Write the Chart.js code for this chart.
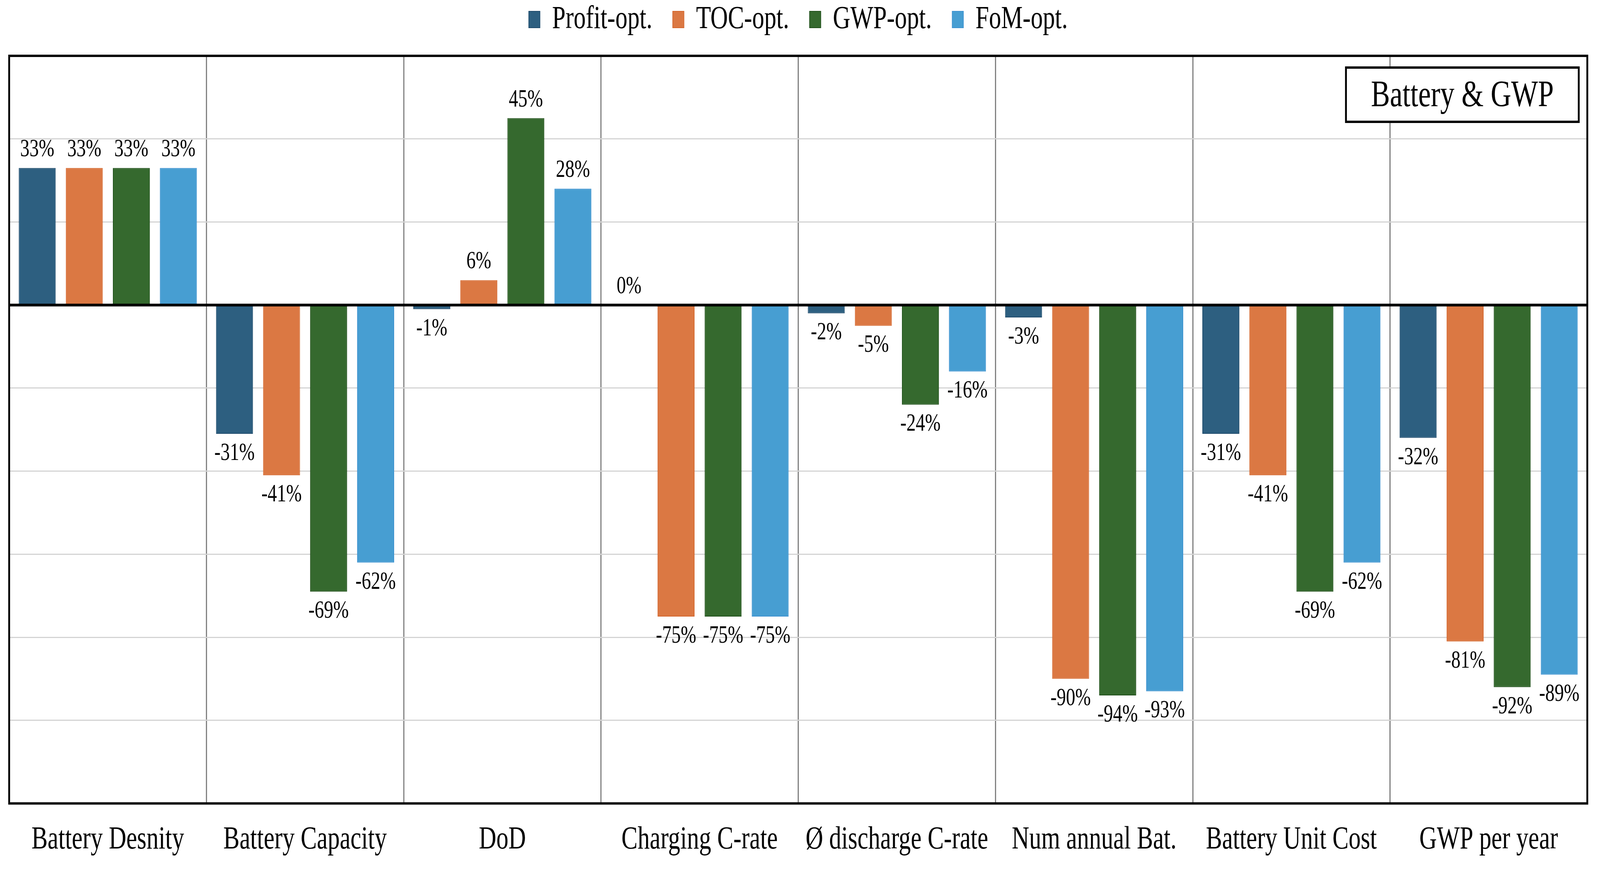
<!DOCTYPE html>
<html>
<head>
<meta charset="utf-8">
<script src="https://cdn.jsdelivr.net/npm/chart.js@4.4.1/dist/chart.umd.min.js"></script>
<style>
    html, body { margin: 0; padding: 0; background: #fff; overflow: hidden; }
    #chart { display: block; width: 100vw; height: 100vh; }
</style>
</head>
<body>
<!-- drawn at the reference size, then fitted to the window -->
<canvas id="chart" width="5416" height="2246" style="width:100vw;height:100vh"></canvas>
<script>
// values (percent change)
const categories = ['Battery Desnity', 'Battery Capacity', 'DoD', 'Charging C-rate', 'Ø discharge C-rate', 'Num annual Bat.', 'Battery Unit Cost', 'GWP per year'];
const seriesNames = ['Profit-opt.', 'TOC-opt.', 'GWP-opt.', 'FoM-opt.'];
const profitOpt = [33, -31, -1, 0, -2, -3, -31, -32];
const tocOpt = [33, -41, 6, -75, -5, -90, -41, -81];
const gwpOpt = [33, -69, 45, -75, -24, -94, -69, -92];
const fomOpt = [33, -62, 28, -75, -16, -93, -62, -89];
const panelTitle = 'Battery & GWP';
const yMin = -120;
const yMax = 60;
const yStep = 20;

const serif = "'Liberation Serif', 'Times New Roman', serif";
const fills = ['#2d5f80', '#db7843', '#35692e', '#479ed2'];
const edges = ['#1e4a6b', '#d4652b', '#1f4f19', '#3d92d0'];

// value labels above / below every bar
const valueLabels = {
    id: 'valueLabels',
    afterDatasetsDraw(chart) {
        const ctx = chart.ctx;
        const zero = chart.scales.y.getPixelForValue(0);
        ctx.save();
        // zero line goes over the bars
        ctx.strokeStyle = '#000';
        ctx.lineWidth = 7;
        ctx.beginPath();
        ctx.moveTo(chart.chartArea.left, zero);
        ctx.lineTo(chart.chartArea.right, zero);
        ctx.stroke();

        ctx.font = '63px ' + serif;
        ctx.fillStyle = '#000';
        ctx.textAlign = 'center';
        ctx.textBaseline = 'alphabetic';
        chart.data.datasets.forEach((ds, i) => {
            const meta = chart.getDatasetMeta(i);
            meta.data.forEach((bar, j) => {
                const v = ds.data[j];
                const y = v < 0 ? bar.y + 67 : bar.y - 30;
                ctx.fillText(v + '%', bar.x, y);
            });
        });
        ctx.restore();
    }
};

// plot frame and the boxed panel title
const frameAndTitle = {
    id: 'frameAndTitle',
    afterDraw(chart) {
        const ctx = chart.ctx;
        const a = chart.chartArea;
        ctx.save();
        ctx.strokeStyle = '#000';
        ctx.lineWidth = 6;
        ctx.strokeRect(a.left, a.top, a.right - a.left, a.bottom - a.top);

        const w = 788, h = 139;
        const x = a.right - 29 - w;
        const y = a.top + 30;
        ctx.fillStyle = '#fff';
        ctx.fillRect(x, y, w, h);
        ctx.strokeRect(x, y, w, h);
        ctx.fillStyle = '#000';
        ctx.font = '96px ' + serif;
        ctx.textAlign = 'center';
        ctx.textBaseline = 'middle';
        ctx.fillText(panelTitle, x + w / 2, y + h / 2 + 4);
        ctx.restore();
    }
};

// extra room between legend and plot
const legendGap = {
    id: 'legendGap',
    beforeInit(chart) {
        const fit = chart.legend.fit;
        chart.legend.fit = function() {
            fit.bind(chart.legend)();
            this.height += 42;
        };
    }
};

const seriesData = [profitOpt, tocOpt, gwpOpt, fomOpt];

const ctx = document.getElementById('chart').getContext('2d');
const chart = new Chart(ctx, {
    type: 'bar',
    data: {
        labels: categories,
        datasets: seriesNames.map((name, i) => ({
            label: name,
            data: seriesData[i],
            backgroundColor: fills[i],
            borderColor: edges[i],
            borderWidth: 2,
            categoryPercentage: 0.954,
            barPercentage: 0.785
        }))
    },
    options: {
        responsive: false,
        animation: false,
        devicePixelRatio: 1,
        layout: {
            padding: { top: -60, left: 31, right: 43, bottom: 0 }
        },
        plugins: {
            legend: {
                position: 'top',
                labels: {
                    font: { family: serif, size: 82 },
                    color: '#000',
                    boxWidth: 38,
                    boxHeight: 42,
                    padding: 69
                }
            },
            tooltip: { enabled: false }
        },
        scales: {
            x: {
                grid: {
                    offset: true,
                    color: '#808080',
                    lineWidth: 4,
                    drawTicks: false
                },
                border: { display: false },
                ticks: {
                    color: '#000',
                    font: { family: serif, size: 82 },
                    padding: 45,
                    maxRotation: 0,
                    autoSkip: false
                }
            },
            y: {
                min: yMin,
                max: yMax,
                ticks: { display: false, stepSize: yStep },
                grid: {
                    color: '#d4d4d4',
                    lineWidth: 3,
                    drawTicks: false
                },
                border: { display: false }
            }
        }
    },
    plugins: [valueLabels, frameAndTitle, legendGap]
});
</script>
</body>
</html>
